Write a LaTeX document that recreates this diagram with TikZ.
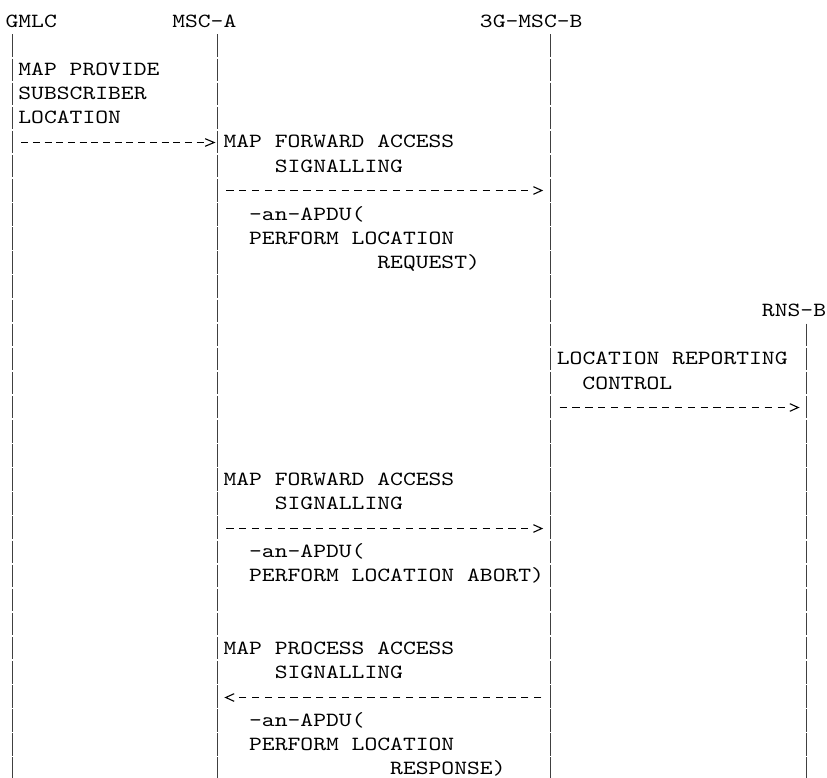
\documentclass[tikz,border=0pt]{standalone}
\usepackage{fontspec}
\newfontfamily\cour{lmmono10-regular.otf}[FakeStretch=1.215]
\begin{document}
\begin{tikzpicture}[x=12.82pt, y=-24.1pt,
  txt/.style={anchor=base west, inner sep=0pt, outer sep=0pt, font=\cour\fontsize{20.1pt}{24pt}\selectfont},
  life/.style={draw=black!75, line width=0.9pt, dash pattern=on 22.5pt off 1.6pt},
  msg/.style={draw=black, line width=1.6pt, dash pattern=on 7.3pt off 5.52pt, shorten <=9.17pt, shorten >=21.99pt},
  chev/.style={draw=black, line width=1.1pt, line join=miter}]
\useasboundingbox (-5.59pt,27.5pt) rectangle (821.41pt,-750.5pt);
% heads
\node[txt] (gmlc) at (0,0) {GMLC};
\node[txt] (msca) at (13,0) {MSC-A};
\node[txt] (mscb) at (37,0) {3G-MSC-B};
\node[txt] (rnsb) at (59,12) {RNS-B};
% lifelines
\coordinate (gT) at (0.5,0.29);  \coordinate (gB) at (0.5,31.3);
\coordinate (aT) at (16.5,0.29); \coordinate (aB) at (16.5,31.3);
\coordinate (bT) at (42.5,0.29); \coordinate (bB) at (42.5,31.3);
\coordinate (rT) at (62.5,12.29); \coordinate (rB) at (62.5,31.3);
\draw[life] (gT) -- (gB);
\draw[life] (aT) -- (aB);
\draw[life] (bT) -- (bB);
\draw[life] (rT) -- (rB);
% message anchor points
\coordinate (g5) at (0.5,4.7718);  \coordinate (a5) at (16.5,4.7718);
\coordinate (a7) at (16.5,6.7635); \coordinate (b7) at (42.5,6.7635);
\coordinate (b16) at (42.5,15.7676); \coordinate (r16) at (62.5,15.7676);
\coordinate (a21) at (16.5,20.7884); \coordinate (b21) at (42.5,20.7884);
\coordinate (b28) at (42.5,27.8008); \coordinate (a28) at (16.5,27.8008);
% messages
\draw[msg, dash pattern=on 7pt off 4.7pt, shorten >=13.5pt] (g5) -- (a5);
\draw[chev] ([xshift=-12pt,yshift=3.8pt]a5) -- ([xshift=-3pt]a5) -- ([xshift=-12pt,yshift=-3.8pt]a5);
\draw[msg] (a7) -- (b7);
\draw[chev] ([xshift=-17.02pt,yshift=3.8pt]b7) -- ([xshift=-8.62pt]b7) -- ([xshift=-17.02pt,yshift=-3.8pt]b7);
\draw[msg] (b16) -- (r16);
\draw[chev] ([xshift=-17.02pt,yshift=3.8pt]r16) -- ([xshift=-8.62pt]r16) -- ([xshift=-17.02pt,yshift=-3.8pt]r16);
\draw[msg] (a21) -- (b21);
\draw[chev] ([xshift=-17.02pt,yshift=3.8pt]b21) -- ([xshift=-8.62pt]b21) -- ([xshift=-17.02pt,yshift=-3.8pt]b21);
\draw[msg] (b28) -- (a28);
\draw[chev] ([xshift=17.02pt,yshift=3.8pt]a28) -- ([xshift=8.62pt]a28) -- ([xshift=17.02pt,yshift=-3.8pt]a28);
% labels
\node[txt] (l2) at (1,2) {MAP PROVIDE};
\node[txt] (l3) at (1,3) {SUBSCRIBER};
\node[txt] (l4) at (1,4) {LOCATION};
\node[txt] (l5) at (17,5) {MAP FORWARD ACCESS};
\node[txt] (l6) at (21,6) {SIGNALLING};
\node[txt] (l8) at (19,8) {-an-APDU(};
\node[txt] (l9) at (19,9) {PERFORM LOCATION};
\node[txt] (l10) at (29,10) {REQUEST)};
\node[txt] (l14) at (43,14) {LOCATION REPORTING};
\node[txt] (l15) at (45,15) {CONTROL};
\node[txt] (l19) at (17,19) {MAP FORWARD ACCESS};
\node[txt] (l20) at (21,20) {SIGNALLING};
\node[txt] (l22) at (19,22) {-an-APDU(};
\node[txt] (l23) at (19,23) {PERFORM LOCATION ABORT)};
\node[txt] (l26) at (17,26) {MAP PROCESS ACCESS};
\node[txt] (l27) at (21,27) {SIGNALLING};
\node[txt] (l29) at (19,29) {-an-APDU(};
\node[txt] (l30) at (19,30) {PERFORM LOCATION};
\node[txt] (l31) at (30,31) {RESPONSE)};
\end{tikzpicture}
\end{document}
